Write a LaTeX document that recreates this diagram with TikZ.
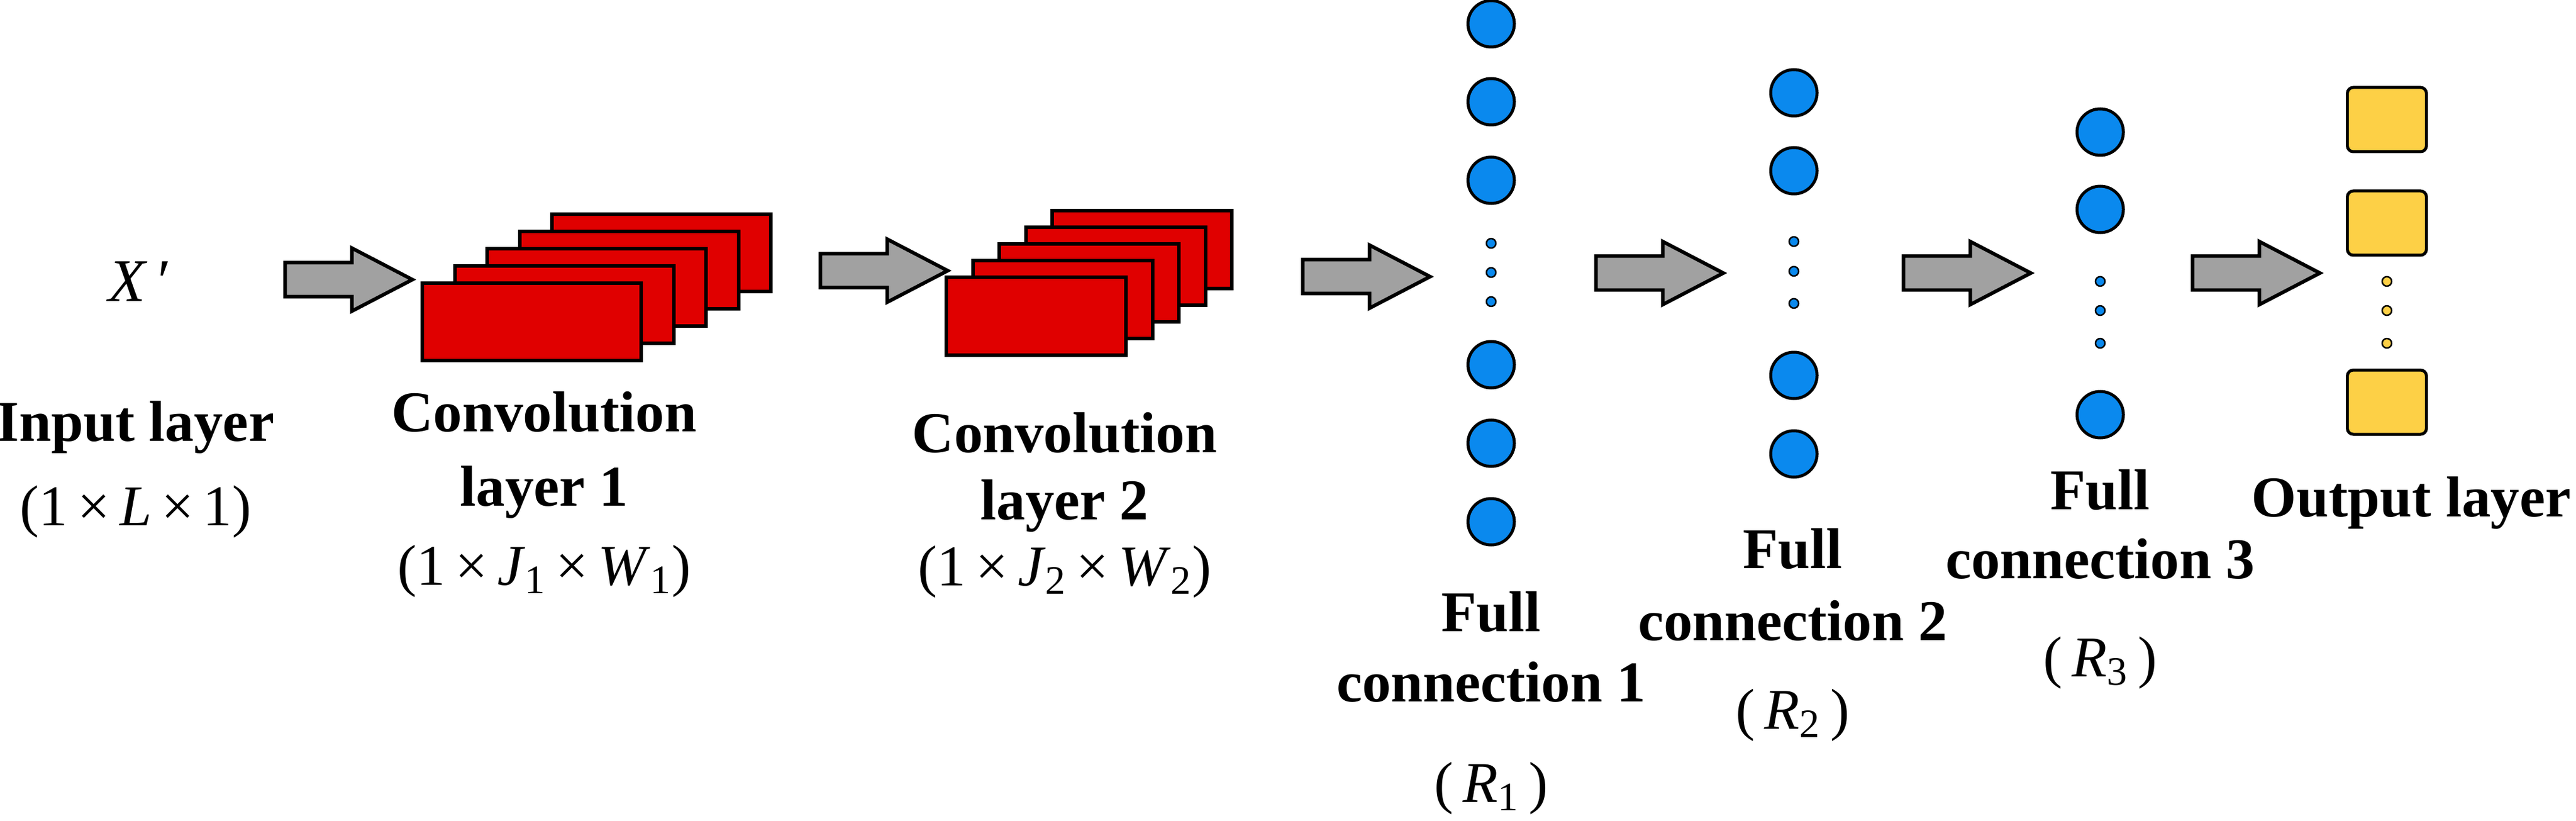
\documentclass[tikz,border=0pt]{standalone}
\usepackage{fontspec}
\setmainfont{Liberation Serif}
\usetikzlibrary{shapes.arrows}

\definecolor{arrowgray}{HTML}{A1A1A1}
\definecolor{convred}{HTML}{E00000}
\definecolor{neuronblue}{HTML}{0A89EE}
\definecolor{outyellow}{HTML}{FDD046}

\begin{document}
\begin{tikzpicture}[
      line width=0.06cm,
      flow arrow/.style={draw, fill=arrowgray, single arrow, single arrow head extend=0.245cm,
        single arrow tip angle=55, minimum height=2.14cm, minimum width=1.0cm,
        inner xsep=0pt, inner ysep=0.255cm},
      fmap/.style={draw, fill=convred, anchor=south west, inner sep=0pt},
      neuron/.style={draw, circle, fill=neuronblue, minimum size=0.78cm, inner sep=0pt, line width=0.05cm},
      dot node/.style={draw, circle, fill=#1, minimum size=0.16cm, inner sep=0pt, line width=0.025cm},
      out node/.style={draw, rounded corners=0.1cm, fill=outyellow, minimum width=1.33cm, minimum height=1.08cm, inner sep=0pt, line width=0.05cm},
      layer label/.style={align=center, inner sep=0pt, anchor=base, font=\fontsize{27.6}{34}\selectfont}
    ]
    \useasboundingbox (0,0) rectangle (43.31,13.79);

    % Input
    \node (xin) [font=\fontsize{29}{34}\selectfont] at (2.35,9.06) {\textit{X}\,′};
    \node (inlabel) [layer label] at (2.28,4.96) {\bfseries Input layer\\[0.22cm] (1\,×\,\textit{L}\,×\,1)};

    % Convolution layer 1
    \foreach \i in {4,...,0}
      \node (conva-\i) [fmap, minimum width=3.68cm, minimum height=1.30cm] at ({7.07+0.545*\i},{7.70+0.29*\i}) {};
    \node (convalabel) [layer label] at (9.15,3.96) {\bfseries Convolution\\[0.06cm] \bfseries layer 1\\[0.13cm] (1\,×\,\textit{J}\textsubscript{1}\,×\,\textit{W}\textsubscript{1})};

    % Convolution layer 2
    \foreach \i in {4,...,0}
      \node (convb-\i) [fmap, minimum width=3.02cm, minimum height=1.31cm] at ({15.88+0.445*\i},{7.79+0.28*\i}) {};
    \node (convblabel) [layer label] at (17.9,3.95) {\bfseries Convolution\\[-0.06cm] \bfseries layer 2\\[-0.09cm] (1\,×\,\textit{J}\textsubscript{2}\,×\,\textit{W}\textsubscript{2})};

    % Full connection 1
    \foreach \y [count=\k] in {13.39,12.08,10.76,7.66,6.34,5.02}
      \node (fca-\k) [neuron] at (25.07,\y) {};
    \foreach \y [count=\k] in {9.70,9.21,8.72}
      \node (fca-d\k) [dot node=neuronblue] at (25.07,\y) {};
    \node (fcalabel) [layer label] at (25.07,0.31) {\bfseries Full\\[-0.01cm] \bfseries connection 1\\[0.49cm] (\,\textit{R}\textsubscript{1}\,)};

    % Full connection 2
    \foreach \y [count=\k] in {12.23,10.92,7.48,6.16}
      \node (fcb-\k) [neuron] at (30.16,\y) {};
    \foreach \y [count=\k] in {9.73,9.23,8.69}
      \node (fcb-d\k) [dot node=neuronblue] at (30.16,\y) {};
    \node (fcblabel) [layer label] at (30.14,1.54) {\bfseries Full\\[0.02cm] \bfseries connection 2\\[0.29cm] (\,\textit{R}\textsubscript{2}\,)};

    % Full connection 3
    \foreach \y [count=\k] in {11.57,10.27,6.82}
      \node (fcc-\k) [neuron] at (35.31,\y) {};
    \foreach \y [count=\k] in {9.06,8.57,8.02}
      \node (fcc-d\k) [dot node=neuronblue] at (35.31,\y) {};
    \node (fcclabel) [layer label] at (35.31,2.42) {\bfseries Full\\[-0.03cm] \bfseries connection 3\\[0.45cm] (\,\textit{R}\textsubscript{3}\,)};

    % Output layer
    \foreach \y [count=\k] in {11.78,10.04,7.03}
      \node (out-\k) [out node] at (40.13,\y) {};
    \foreach \y [count=\k] in {9.06,8.57,8.02}
      \node (out-d\k) [dot node=outyellow] at (40.13,\y) {};
    \node (outlabel) [layer label] at (40.54,5.11) {\bfseries Output layer};

    % Arrows between layers
    \node (arr1) [flow arrow] at (5.59,9.09) {};
    \node (arr2) [flow arrow] at (14.59,9.24) {};
    \node (arr3) [flow arrow] at (22.70,9.14) {};
    \node (arr4) [flow arrow] at (27.63,9.20) {};
    \node (arr5) [flow arrow] at (32.80,9.20) {};
    \node (arr6) [flow arrow] at (37.66,9.20) {};
  \end{tikzpicture}
\end{document}
